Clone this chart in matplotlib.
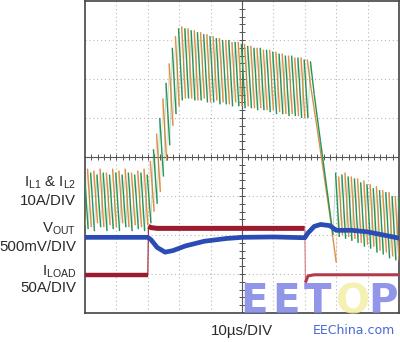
import numpy as np
import matplotlib.pyplot as plt
from matplotlib.collections import LineCollection

# scope screen is 10 x 8 divisions, all values below are in divisions

# inductor currents: one tooth every 0.2 div per phase
# tooth k rises from valley[k] to peak[k], then falls to valley[k+1]
# nan peak = no switch pulse (load release)
tooth_period = 0.2
rise_time = 0.08

t0_a = -0.2   # orange phase
peak_a = [3.65,
          3.7, 3.65, 3.7, 3.6, 3.7, 3.65, 3.7, 3.6, 3.65, 3.7,
          3.9, 4.6, 5.5, 6.4, 7.1, 7.35, 7.3, 7.25, 7.2, 7.15,
          7.1, 7.05, 7.0, 6.95, 6.95, 6.9, 6.85, 6.8, 6.75, 6.75,
          6.7, 6.65, 6.6, 6.55, 6.55, 6.5, np.nan, np.nan, np.nan, np.nan,
          3.5, 3.6, 3.5, 3.45, 3.4, 3.3, 3.25, 3.15, 3.1, 3.0]
valley_a = [2.2,
            2.25, 2.2, 2.3, 2.2, 2.25, 2.2, 2.3, 2.2, 2.25, 2.2,
            2.25, 2.6, 3.1, 3.9, 4.8, 5.3, 5.5, 5.5, 5.45, 5.5,
            5.4, 5.45, 5.4, 5.35, 5.4, 5.3, 5.3, 5.25, 5.25, 5.2,
            5.2, 5.15, 5.1, 5.1, 5.05, 5.0, 5.75, 4.7, 3.6, 2.5,
            1.3, 2.0, 1.95, 1.9, 1.8, 1.75, 1.7, 1.6, 1.55, 1.45,
            1.35]

t0_b = -0.1   # green phase
peak_b = [3.6,
          3.6, 3.55, 3.6, 3.55, 3.6, 3.55, 3.6, 3.55, 3.6, 3.55,
          4.2, 5.0, 5.9, 6.8, 7.3, 7.3, 7.25, 7.2, 7.15, 7.1,
          7.05, 7.0, 7.0, 6.95, 6.9, 6.85, 6.8, 6.8, 6.75, 6.7,
          6.65, 6.6, 6.6, 6.55, 6.5, 6.45, np.nan, np.nan, np.nan, 3.6,
          3.55, 3.5, 3.45, 3.35, 3.3, 3.2, 3.15, 3.1, 3.0, 2.95]
valley_b = [2.1,
            2.15, 2.1, 2.2, 2.1, 2.15, 2.1, 2.2, 2.1, 2.15, 2.1,
            2.3, 2.8, 3.5, 4.3, 5.1, 5.45, 5.5, 5.45, 5.45, 5.4,
            5.4, 5.35, 5.35, 5.3, 5.3, 5.25, 5.25, 5.2, 5.2, 5.15,
            5.1, 5.1, 5.05, 5.05, 5.0, 5.0, 5.6, 4.4, 3.2, 2.0,
            1.95, 1.9, 1.85, 1.8, 1.7, 1.65, 1.55, 1.5, 1.4, 1.35,
            1.3]

# output voltage
vout_t = [0, 2.0, 2.1, 2.3, 2.55, 2.8, 3.2, 3.8, 4.5, 5.0, 6.0, 7.0,
          7.1, 7.3, 7.5, 7.8, 8.0, 8.5, 9.0, 9.5, 10.0]
vout_v = [1.94, 1.94, 1.88, 1.68, 1.56, 1.6, 1.72, 1.84, 1.91, 1.94, 1.95, 1.93,
          2.05, 2.22, 2.27, 2.24, 2.12, 2.12, 2.08, 2.0, 1.92]

# load current
iload_lo1_t = [0, 2.0]
iload_lo1 = [0.97, 0.97]
iload_hi_t = [2.02, 2.1, 2.3, 7.0]
iload_hi = [2.22, 2.19, 2.17, 2.17]
iload_lo2_t = [7.02, 7.1, 7.3, 10.0]
iload_lo2 = [0.78, 0.95, 0.98, 0.98]


def saw_segments(t0, peaks, valleys):
    # returns falling strokes (bright) and rising strokes (faint)
    fall, rise = [], []
    for k, pk in enumerate(peaks):
        tk = t0 + k * tooth_period
        t_next = tk + tooth_period
        if np.isnan(pk):
            fall.append([(tk, valleys[k]), (t_next, valleys[k + 1])])
        else:
            rise.append([(tk, valleys[k]), (tk + rise_time, pk)])
            fall.append([(tk + rise_time, pk), (t_next, valleys[k + 1])])
    return fall, rise


plt.rcParams['font.family'] = ['Liberation Sans', 'DejaVu Sans']

fig = plt.figure(figsize=(4.0, 3.42), dpi=100)
ax = fig.add_axes([85 / 400, 29 / 342, 314 / 400, 312 / 342])
ax.set_xlim(0, 10)
ax.set_ylim(0, 8)
ax.set_xticks([])
ax.set_yticks([])
for s in ax.spines.values():
    s.set_color('#444444')
    s.set_linewidth(1.2)

# graticule
for gx in range(1, 10):
    if gx != 5:
        ax.axvline(gx, color='#b8b8b8', lw=0.8, ls=(0, (1, 2.5)), zorder=1)
for gy in range(1, 8):
    if gy != 4:
        ax.axhline(gy, color='#b8b8b8', lw=0.8, ls=(0, (1, 2.5)), zorder=1)
ax.axvline(5, color='#555555', lw=0.8, zorder=1)
ax.axhline(4, color='#555555', lw=0.8, zorder=1)
mx = np.arange(0.2, 10, 0.2)
my = np.arange(0.2, 8, 0.2)
ax.plot(mx, np.full(len(mx), 4), ls='', marker='|', ms=4, mew=0.7, color='#555555', zorder=1)
ax.plot(np.full(len(my), 5), my, ls='', marker='_', ms=4, mew=0.7, color='#555555', zorder=1)

# inductor current traces
for t0, pk, vl, c in [(t0_a, peak_a, valley_a, '#dc8f45'), (t0_b, peak_b, valley_b, '#23955a')]:
    fall, rise = saw_segments(t0, pk, vl)
    ax.add_collection(LineCollection(fall, colors=c, linewidths=1.0, zorder=3))
    ax.add_collection(LineCollection(rise, colors=c, linewidths=0.6, alpha=0.35, zorder=3))

# load current
ax.plot(iload_lo1_t, iload_lo1, color='#9b1c2e', lw=3.2, solid_capstyle='butt', zorder=4)
ax.plot([iload_lo1_t[-1], iload_hi_t[0]], [iload_lo1[-1], iload_hi[0]], color='#9b1c2e', lw=0.8, zorder=4)
ax.plot(iload_hi_t, iload_hi, color='#9b1c2e', lw=3.6, solid_capstyle='butt', zorder=4)
ax.plot([iload_hi_t[-1], iload_lo2_t[0]], [iload_hi[-1], iload_lo2[0]], color='#d27a86', lw=0.8, zorder=4)
ax.plot(iload_lo2_t, iload_lo2, color='#b33a4a', lw=2.2, solid_capstyle='butt', zorder=4)

# output voltage
ax.plot(vout_t, vout_v, color='#2a4cb4', lw=3.4, zorder=5)

# channel labels
lx = 76 / 400
fs = 10.8
tc = '#2a2a2a'
fig.text(lx, 1 - 183 / 342, r'$\mathregular{I_{L1}}$ & $\mathregular{I_{L2}}$', ha='right', va='center',
         fontsize=fs, color=tc)
fig.text(lx, 1 - 201 / 342, '10A/DIV', ha='right', va='center', fontsize=fs, color=tc)
fig.text(lx, 1 - 229 / 342, r'$\mathregular{V_{OUT}}$', ha='right', va='center', fontsize=fs, color=tc)
fig.text(lx, 1 - 247 / 342, '500mV/DIV', ha='right', va='center', fontsize=fs, color=tc)
fig.text(lx, 1 - 272 / 342, r'$\mathregular{I_{LOAD}}$', ha='right', va='center', fontsize=fs, color=tc)
fig.text(lx, 1 - 288 / 342, '50A/DIV', ha='right', va='center', fontsize=fs, color=tc)
fig.text(242 / 400, 1 - 331 / 342, '10µs/DIV', ha='center', va='center', fontsize=fs, color=tc)

# site watermark
wm = [('E', '#7f84e6'), ('E', '#7f84e6'), ('T', '#7f84e6'), ('O', '#f3efa6'), ('P', '#7f84e6')]
for i, (ch, c) in enumerate(wm):
    fig.text((240 + i * 32) / 400, 1 - 313 / 342, ch, ha='left', va='baseline', fontsize=29,
             fontweight='bold', family='DejaVu Sans', color=c, alpha=0.85, zorder=10)
fig.text(395 / 400, 1 - 331 / 342, 'EEChina.com', ha='right', va='center', fontsize=9,
         family='DejaVu Sans', color='#4a68d6')

fig.savefig('out.png', dpi=100)
